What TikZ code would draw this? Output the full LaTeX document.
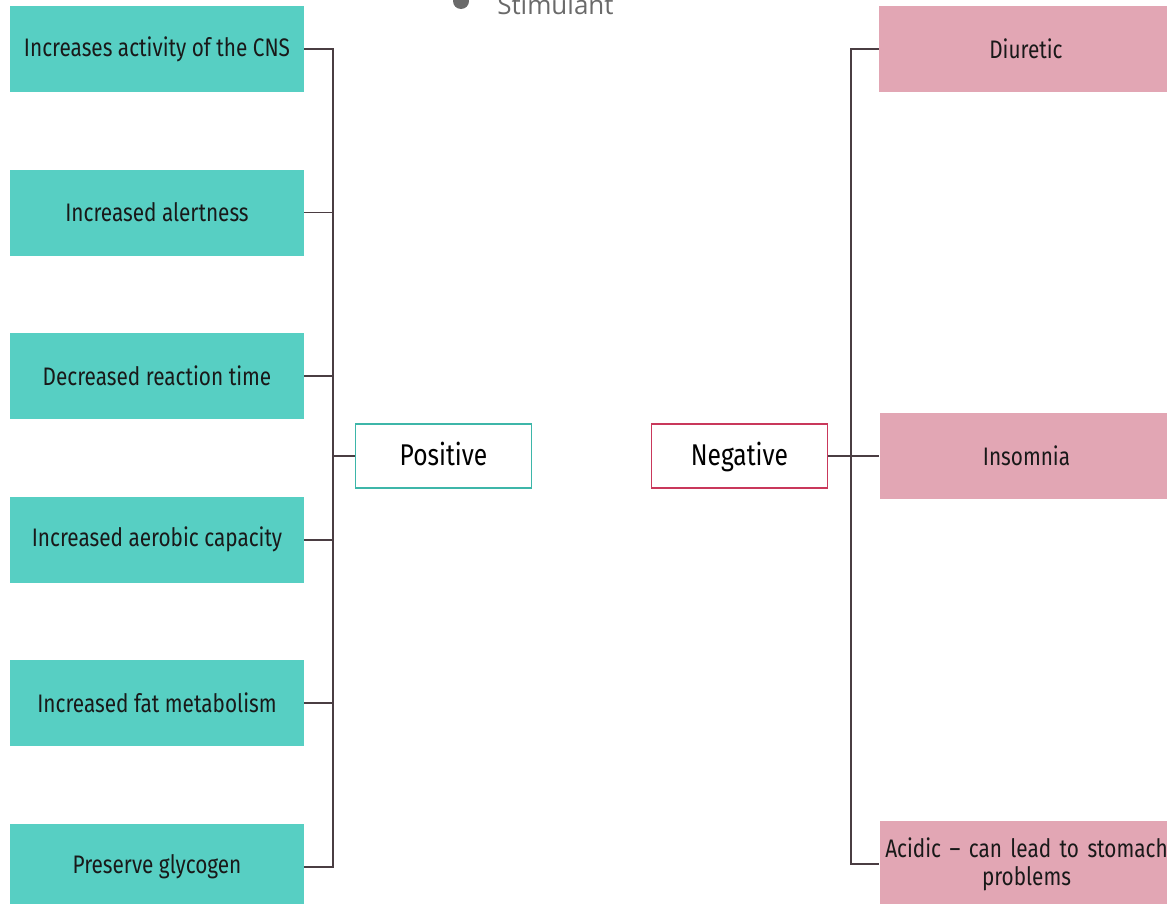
\documentclass[tikz,border=0pt]{standalone}
\usepackage{fontspec}
\setmainfont{Fira Sans}[FakeStretch=0.82]
\newfontfamily\stimfont{Open Sans}
\usepackage{xcolor}
\usetikzlibrary{positioning,calc}
\definecolor{tealfill}{HTML}{57CFC3}
\definecolor{tealline}{HTML}{3DB6A9}
\definecolor{pinkfill}{HTML}{E2A6B4}
\definecolor{redline}{HTML}{C9385B}
\definecolor{busline}{HTML}{4A3D42}
\definecolor{greytxt}{HTML}{6A6A6A}

\begin{document}
\begin{tikzpicture}[
  x=0.75pt, y=0.75pt,
  font=\fontsize{19pt}{21pt}\selectfont,
  box/.style={align=center, inner sep=2pt, text=black!90,
              minimum width=220.5pt, minimum height=64.5pt},
  pro/.style={box, fill=tealfill},
  con/.style={box, fill=pinkfill, text width=214pt},
  head/.style={draw, line width=1.3pt, fill=white, minimum width=132pt,
               minimum height=47.5pt, text height=16pt, text depth=2.5pt,
               font=\fontsize{22.5pt}{24pt}\selectfont},
  link/.style={draw=busline, line width=1.4pt}]

\useasboundingbox (0,0) rectangle (1167,-903);

% title, cut at the top
\fill[greytxt] (461,-1) circle (8);
\node[anchor=base west, text=greytxt, inner sep=0pt,
      font=\stimfont\fontsize{19.5pt}{21pt}\selectfont] (stim) at (497,-14) {Stimulant};

% positive side
\node[pro] (p1) at (157,-49) {Increases activity of the CNS};
\node[pro, below=57.75pt of p1] (p2) {Increased alertness};
\node[pro, below=57.75pt of p2] (p3) {Decreased reaction time};
\node[pro, below=57.75pt of p3] (p4) {Increased aerobic capacity};
\node[pro, below=57.75pt of p4] (p5) {Increased fat metabolism};
\node[pro, below=57.75pt of p5] (p6) {Preserve glycogen};

\node[head, draw=tealline] (pos) at (443.5,-456) {Positive};
\node[head, draw=redline] (neg) at (739.5,-456) {Negative};

% negative side
\node[con] (n1) at (1026,-49) {Diuretic};
\node[con] (n2) at (1026.5,-456) {Insomnia};
\node[con] (n3) at (1026.5,-864) {Acidic -- can lead to stomach\\problems};

\coordinate (lbus) at (333,-456);
\coordinate (rbus) at (851,-456);

\draw[link] (p1.east) -| (lbus) |- (p6.east);
\foreach \i in {2,3,4,5}
  \draw[link] (p\i.east) -- (p\i.east -| lbus);
\draw[link] (lbus) -- (pos.west);

\draw[link] (n1.west) -| (rbus) |- (n3.west);
\draw[link] (neg.east) -- (rbus) -- (n2.west);
\end{tikzpicture}
\end{document}
